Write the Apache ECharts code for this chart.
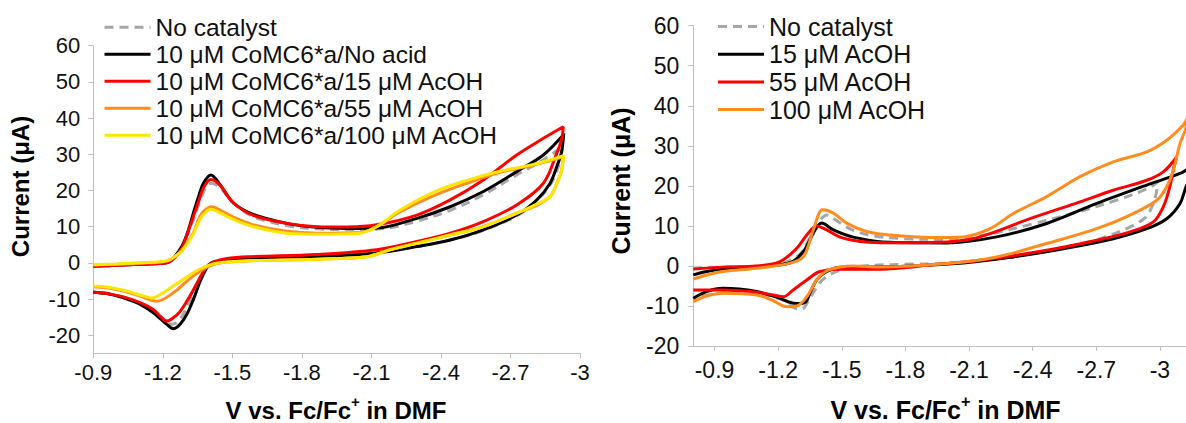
<!DOCTYPE html>
<html>
<head>
<meta charset="utf-8">
<script src="https://cdn.jsdelivr.net/npm/echarts@6/dist/echarts.min.js"></script>
<style>
  html, body { margin: 0; padding: 0; background: #ffffff; }
  #chart { width: 1186px; height: 423px; }
</style>
</head>
<body>
<div id="chart"></div>
<script>
// Cyclic voltammograms, [potential (V vs Fc/Fc+), current (µA)], forward sweep then return sweep.

// ---- Left panel: 10 µM CoMC6*a with increasing acetic acid ----
const leftNoCatalyst = [
  [-0.90,-1.0],[-1.10,-0.4],[-1.217,0.0],[-1.274,3.3],[-1.332,12.0],[-1.375,19.5],[-1.41,22.0],
  [-1.447,20.8],[-1.504,16.6],[-1.59,12.8],[-1.735,10.3],[-1.864,9.4],[-2.0,9.2],[-2.123,9.3],
  [-2.296,11.5],[-2.44,14.5],[-2.583,18.8],[-2.727,24.3],[-2.842,28.5],[-2.925,32.1],
  [-2.915,28.5],[-2.90,25.5],[-2.871,21.5],[-2.81,17.0],[-2.727,13.0],[-2.583,9.0],[-2.44,6.3],
  [-2.296,4.5],[-2.123,2.8],[-1.864,1.8],[-1.576,1.3],[-1.45,0.8],[-1.41,0.0],[-1.38,-2.0],
  [-1.332,-8.5],[-1.29,-14.0],[-1.26,-16.5],[-1.235,-17.0],[-1.20,-15.8],[-1.159,-13.5],
  [-1.102,-11.3],[-1.03,-9.5],[-0.958,-8.4],[-0.90,-8.0]
];
const leftNoAcid = [
  [-0.90,-0.9],[-1.00,-0.7],[-1.10,-0.4],[-1.217,0.0],[-1.274,3.7],[-1.305,8.0],[-1.332,13.8],
  [-1.355,18.5],[-1.375,22.0],[-1.407,24.3],[-1.447,21.6],[-1.504,16.6],[-1.59,13.4],[-1.735,10.9],
  [-1.864,9.8],[-2.0,9.5],[-2.123,9.6],[-2.296,12.3],[-2.44,15.5],[-2.583,19.7],[-2.727,25.2],
  [-2.842,29.8],[-2.922,34.9],[-2.93,35.8],
  [-2.92,30.5],[-2.90,26.6],[-2.871,22.0],[-2.814,17.4],[-2.727,13.2],[-2.583,9.1],[-2.44,6.3],
  [-2.296,4.5],[-2.123,2.7],[-1.864,1.7],[-1.576,1.3],[-1.447,0.6],[-1.41,0.0],[-1.389,-1.4],
  [-1.36,-5.3],[-1.332,-10.1],[-1.303,-14.3],[-1.274,-17.0],[-1.245,-18.2],[-1.217,-17.0],
  [-1.19,-15.5],[-1.159,-13.8],[-1.102,-11.5],[-1.03,-9.7],[-0.958,-8.5],[-0.90,-8.1]
];
const left15uM = [
  [-0.90,-0.9],[-1.00,-0.7],[-1.10,-0.4],[-1.217,0.0],[-1.274,3.2],[-1.30,7.0],[-1.332,12.9],
  [-1.36,18.0],[-1.375,20.7],[-1.407,23.0],[-1.447,21.4],[-1.504,16.6],[-1.59,13.1],[-1.735,10.9],
  [-1.864,10.0],[-2.0,9.9],[-2.123,10.5],[-2.296,13.2],[-2.44,17.4],[-2.583,22.9],[-2.727,29.8],
  [-2.842,34.4],[-2.928,37.6],
  [-2.92,34.0],[-2.90,30.3],[-2.842,22.0],[-2.727,16.0],[-2.583,11.4],[-2.44,8.2],[-2.296,5.9],
  [-2.123,3.6],[-1.864,2.3],[-1.576,1.7],[-1.476,1.2],[-1.418,0.2],[-1.389,-1.1],[-1.36,-4.1],
  [-1.317,-9.2],[-1.274,-13.5],[-1.245,-15.2],[-1.217,-16.1],[-1.19,-14.8],[-1.159,-12.9],
  [-1.102,-11.0],[-1.03,-9.4],[-0.958,-8.5],[-0.90,-8.1]
];
const left55uM = [
  [-0.90,-0.6],[-1.00,-0.4],[-1.10,-0.1],[-1.217,0.5],[-1.274,2.8],[-1.305,5.5],[-1.332,8.3],
  [-1.36,12.9],[-1.38,14.5],[-1.41,15.5],[-1.447,14.6],[-1.504,12.6],[-1.59,10.5],[-1.735,8.7],
  [-1.864,8.2],[-2.051,8.4],[-2.123,10.0],[-2.224,14.1],[-2.367,18.5],[-2.512,22.0],[-2.655,25.0],
  [-2.799,27.0],[-2.928,29.3],
  [-2.92,25.5],[-2.90,22.0],[-2.871,18.3],[-2.80,15.5],[-2.727,13.7],[-2.583,10.0],[-2.44,7.7],
  [-2.296,5.4],[-2.18,3.6],[-2.08,1.7],[-1.864,1.0],[-1.576,0.6],[-1.476,0.2],[-1.418,-0.5],
  [-1.36,-2.3],[-1.303,-5.1],[-1.245,-8.3],[-1.174,-10.6],[-1.102,-9.2],[-1.03,-7.8],
  [-0.958,-6.9],[-0.90,-6.6]
];
const left100uM = [
  [-0.90,-0.5],[-1.00,-0.3],[-1.10,0.0],[-1.217,0.6],[-1.274,2.9],[-1.305,5.3],[-1.332,8.0],
  [-1.36,12.0],[-1.385,14.0],[-1.407,14.8],[-1.447,13.8],[-1.504,12.0],[-1.59,10.0],[-1.735,8.2],
  [-1.864,7.9],[-2.051,8.2],[-2.123,10.0],[-2.224,14.6],[-2.367,19.5],[-2.512,22.8],[-2.655,25.3],
  [-2.799,27.2],[-2.93,29.6],
  [-2.92,25.5],[-2.90,22.0],[-2.871,18.3],[-2.80,15.8],[-2.727,13.7],[-2.583,10.0],[-2.44,7.7],
  [-2.296,5.4],[-2.18,3.6],[-2.08,1.7],[-1.864,1.0],[-1.576,0.6],[-1.476,0.2],[-1.418,-0.3],
  [-1.36,-1.7],[-1.303,-3.9],[-1.245,-6.4],[-1.19,-8.7],[-1.152,-9.7],[-1.102,-8.9],[-1.03,-7.6],
  [-0.958,-6.7],[-0.90,-6.4]
];

// ---- Right panel: acetic acid only ----
const rightNoCatalyst = [
  [-0.80,-0.5],[-1.0,-0.2],[-1.2,0.4],[-1.3,2.8],[-1.35,7.0],[-1.40,11.5],[-1.43,12.7],[-1.47,11.5],
  [-1.55,9.0],[-1.65,7.5],[-1.8,6.8],[-2.0,6.6],[-2.2,8.0],[-2.4,10.5],[-2.6,13.3],[-2.8,16.5],
  [-2.95,19.5],[-2.99,21.0],
  [-2.98,17.5],[-2.96,14.5],[-2.93,12.0],[-2.85,9.5],[-2.7,6.5],[-2.5,4.2],[-2.3,2.3],[-2.0,0.7],
  [-1.8,0.4],[-1.6,0.0],[-1.5,-1.0],[-1.45,-2.0],[-1.40,-4.0],[-1.35,-8.0],[-1.31,-10.8],
  [-1.28,-10.6],[-1.22,-8.5],[-1.1,-6.8],[-1.0,-6.4],[-0.9,-7.0],[-0.8,-8.0]
];
const right15uM = [
  [-0.80,-2.25],[-0.863,-1.4],[-0.941,-0.8],[-1.099,-0.2],[-1.256,0.8],[-1.319,3.6],[-1.366,8.2],
  [-1.405,10.7],[-1.46,9.0],[-1.554,7.2],[-1.727,5.9],[-1.995,5.75],[-2.23,7.25],[-2.466,10.6],
  [-2.702,15.6],[-2.938,20.2],[-3.095,23.1],[-3.15,24.8],
  [-3.145,22.0],[-3.123,19.75],[-3.095,15.6],[-3.032,11.8],[-2.938,9.3],[-2.78,6.8],[-2.545,4.3],
  [-2.309,2.25],[-2.073,0.75],[-1.68,-0.25],[-1.492,-0.3],[-1.429,-1.4],[-1.382,-3.5],
  [-1.35,-6.8],[-1.33,-9.0],[-1.29,-9.4],[-1.25,-9.0],[-1.209,-8.1],[-1.099,-6.4],[-0.941,-5.6],
  [-0.863,-6.4],[-0.80,-8.1]
];
const right55uM = [
  [-0.80,-0.8],[-0.941,-0.3],[-1.099,0.0],[-1.209,1.1],[-1.288,4.4],[-1.335,7.75],[-1.382,10.0],
  [-1.429,9.0],[-1.492,7.2],[-1.586,6.1],[-1.727,5.8],[-1.995,6.0],[-2.152,7.25],[-2.388,11.8],
  [-2.623,16.0],[-2.78,18.9],[-2.938,21.4],[-3.016,23.5],[-3.079,27.2],
  [-3.07,25.5],[-3.063,24.0],[-3.047,19.8],[-3.016,14.75],[-2.969,11.0],[-2.859,8.5],[-2.702,6.4],
  [-2.466,3.9],[-2.152,1.4],[-1.916,0.2],[-1.68,-0.8],[-1.492,-0.8],[-1.397,-1.4],[-1.335,-3.5],
  [-1.271,-6.0],[-1.224,-7.7],[-1.177,-7.25],[-1.099,-6.6],[-0.941,-6.0],[-0.80,-6.0]
];
const right100uM = [
  [-0.80,-3.3],[-0.863,-2.25],[-0.941,-1.4],[-1.099,-0.6],[-1.256,0.7],[-1.319,2.3],[-1.366,9.0],
  [-1.41,14.0],[-1.46,13.2],[-1.523,10.7],[-1.617,8.6],[-1.727,7.7],[-1.916,7.1],[-2.073,7.25],
  [-2.199,9.3],[-2.309,13.1],[-2.466,17.3],[-2.623,22.3],[-2.78,26.0],[-2.938,28.5],[-3.032,31.4],
  [-3.11,35.2],[-3.13,37.0],
  [-3.12,34.0],[-3.095,30.6],[-3.063,23.9],[-3.032,19.8],[-2.985,16.4],[-2.859,12.7],[-2.702,9.3],
  [-2.466,5.6],[-2.23,2.25],[-1.995,0.6],[-1.68,-0.25],[-1.554,0.0],[-1.492,-0.3],[-1.429,-1.2],
  [-1.382,-3.5],[-1.335,-7.7],[-1.288,-10.0],[-1.24,-10.2],[-1.177,-8.7],[-1.099,-7.25],
  [-0.941,-6.8],[-0.863,-7.5],[-0.80,-8.9]
];

// Axis tick values and legend labels
const potentialTicks = [-0.9, -1.2, -1.5, -1.8, -2.1, -2.4, -2.7, -3];
const currentTicks = [-20, -10, 0, 10, 20, 30, 40, 50, 60];
const leftNames = ['No catalyst', '10 μM CoMC6*a/No acid', '10 μM CoMC6*a/15 μM AcOH',
                   '10 μM CoMC6*a/55 μM AcOH', '10 μM CoMC6*a/100 μM AcOH'];
const rightNames = ['No catalyst', '15 μM AcOH', '55 μM AcOH', '100 μM AcOH'];
const yTitle = 'Current (μA)';
const xTitleParts = ['V vs. Fc/Fc', '+', ' in DMF'];

const FONT = "'Liberation Sans', Arial, Helvetica, sans-serif";
const AXIS_GRAY = '#bfbfbf';
const TEXT = '#111111';
const GRAY = '#a6a6a6', BLACK = '#000000', RED = '#ff0000', ORANGE = '#ff8c1e', YELLOW = '#ffe600';

const fmt = v => String(+(+v).toFixed(2));

function xAxis(gridIndex, min, max, size, margin) {
  return {
    type: 'value', gridIndex, min, max, inverse: true,
    axisLine: { show: true, onZero: false, lineStyle: { color: AXIS_GRAY, width: 1 } },
    axisTick: { show: true, length: 5, customValues: potentialTicks, lineStyle: { color: AXIS_GRAY } },
    axisLabel: { customValues: potentialTicks, formatter: fmt, fontFamily: FONT, fontSize: size,
                 color: TEXT, margin },
    splitLine: { show: false }
  };
}
function yAxis(gridIndex, min, max, size, margin) {
  return {
    type: 'value', gridIndex, min, max,
    axisLine: { show: true, onZero: false, lineStyle: { color: AXIS_GRAY, width: 1 } },
    axisTick: { show: true, length: 5, customValues: currentTicks, lineStyle: { color: AXIS_GRAY } },
    axisLabel: { customValues: currentTicks, formatter: fmt, fontFamily: FONT, fontSize: size,
                 color: TEXT, margin },
    splitLine: { show: false }
  };
}
function curve(name, data, color, axis, dashed) {
  return {
    type: 'line', name, data, xAxisIndex: axis, yAxisIndex: axis,
    symbol: 'none', showSymbol: false, smooth: 0.35,
    lineStyle: { color, width: 3, type: dashed ? [9, 6] : 'solid', cap: 'butt' },
    itemStyle: { color },
    emphasis: { disabled: true }
  };
}
function legend(names, left, top, size, gap) {
  return {
    data: names, orient: 'vertical', left, top, padding: 0,
    itemWidth: 46, itemHeight: 14, itemGap: gap, selectedMode: false,
    lineStyle: { width: 3 },
    itemStyle: { opacity: 0, borderWidth: 0 },
    textStyle: { fontFamily: FONT, fontSize: size, lineHeight: size, color: TEXT }
  };
}

// Text measuring for laying out the superscript in the potential axis titles
const measureCtx = document.createElement('canvas').getContext('2d');
function textWidth(str, font) { measureCtx.font = font; return measureCtx.measureText(str).width; }

function yAxisTitle(x, y, size) {
  return {
    type: 'text', x, y, rotation: Math.PI / 2, silent: true,
    style: { text: yTitle, font: 'bold ' + size + 'px ' + FONT, fill: '#000',
             align: 'center', verticalAlign: 'middle' }
  };
}
function xAxisTitle(cx, cy, size) {
  const mainFont = 'bold ' + size + 'px ' + FONT;
  const supSize = Math.round(size * 0.62);
  const supFont = 'bold ' + supSize + 'px ' + FONT;
  const w0 = textWidth(xTitleParts[0], mainFont);
  const w1 = textWidth(xTitleParts[1], supFont);
  const w2 = textWidth(xTitleParts[2], mainFont);
  const x0 = cx - (w0 + w1 + w2) / 2;
  return [
    { type: 'text', x: x0, y: cy, silent: true,
      style: { text: xTitleParts[0], font: mainFont, fill: '#000', align: 'left', verticalAlign: 'middle' } },
    { type: 'text', x: x0 + w0, y: cy - size * 0.36, silent: true,
      style: { text: xTitleParts[1], font: supFont, fill: '#000', align: 'left', verticalAlign: 'middle' } },
    { type: 'text', x: x0 + w0 + w1, y: cy, silent: true,
      style: { text: xTitleParts[2], font: mainFont, fill: '#000', align: 'left', verticalAlign: 'middle' } }
  ];
}

const chart = echarts.init(document.getElementById('chart'), null, { renderer: 'svg' });
chart.setOption({
  backgroundColor: '#ffffff',
  animation: false,
  textStyle: { fontFamily: FONT },
  grid: [
    { left: 93.3, top: 45.7, width: 486.7, height: 307.6, containLabel: false },
    { left: 693.3, top: 25.7, right: 0, height: 320.3, containLabel: false }
  ],
  xAxis: [xAxis(0, -3, -0.9, 22, 8), xAxis(1, -3.123, -0.8, 23, 12)],
  yAxis: [yAxis(0, -25, 60, 22, 13), yAxis(1, -20, 60, 23, 14)],
  legend: [
    legend(leftNames, 103, 14.7, 24.5, 2),
    legend(rightNames, 716.5, 14, 25, 2.7)
  ],
  graphic: [
    yAxisTitle(20.5, 186.5, 24),
    yAxisTitle(620.5, 181, 25),
    ...xAxisTitle(336, 410, 24),
    ...xAxisTitle(945.5, 410, 25)
  ],
  series: [
    curve(leftNames[0], leftNoCatalyst, GRAY, 0, true),
    curve(leftNames[1], leftNoAcid, BLACK, 0),
    curve(leftNames[2], left15uM, RED, 0),
    curve(leftNames[3], left55uM, ORANGE, 0),
    curve(leftNames[4], left100uM, YELLOW, 0),
    curve(rightNames[0], rightNoCatalyst, GRAY, 1, true),
    curve(rightNames[1], right15uM, BLACK, 1),
    curve(rightNames[2], right55uM, RED, 1),
    curve(rightNames[3], right100uM, ORANGE, 1)
  ]
});
</script>
</body>
</html>
